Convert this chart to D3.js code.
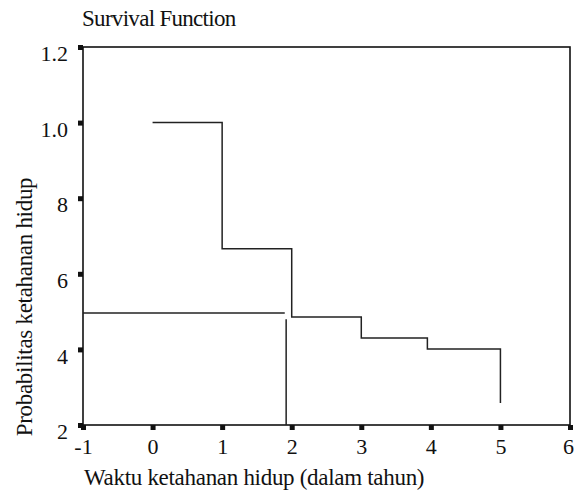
<!DOCTYPE html>
<html>
<head>
<meta charset="utf-8">
<script src="https://cdn.jsdelivr.net/npm/d3@7"></script>
<style>
  body { margin: 0; background: #fff; }
  text { font-family: "Liberation Serif", "DejaVu Serif", serif; fill: #111; }
</style>
</head>
<body>
<svg width="574" height="494"></svg>
<script>
const WIDTH = 574;
const HEIGHT = 494;

// step points of the survival curve (time, probability)
var times = [0, 1, 2, 3, 3.95, 5];
var survival = [1.0, 0.666, 0.486, 0.43, 0.401, 0.258];
var curveEnd = 0.258;

// median guide lines
var medianProb = 0.496;
var medianTime = 1.92;
var medianTop = 0.48;

var xTicks = [-1, 0, 1, 2, 3, 4, 5, 6];
var xTickLabels = ['-1', '0', '1', '2', '3', '4', '5', '6'];
var yTicks = [0.2, 0.4, 0.6, 0.8, 1.0, 1.2];
var yTickLabels = ['2', '4', '6', '8', '1.0', '1.2'];

var svg = d3.select('svg');

var x = d3.scaleLinear().domain([-1, 6]).range([83, 570]);
var y = d3.scaleLinear().domain([0.2, 1.2]).range([425, 47]);

// plot frame
svg.append('rect')
    .attr('x', x(-1)).attr('y', y(1.2))
    .attr('width', x(6) - x(-1)).attr('height', y(0.2) - y(1.2))
    .attr('fill', 'none').attr('stroke', '#111').attr('stroke-width', 1.6);

// axes: square tick marks and labels
var xAxis = svg.append('g').attr('transform', 'translate(0,' + y(0.2) + ')')
    .call(d3.axisBottom(x).tickValues(xTicks).tickSize(0).tickPadding(12)
        .tickFormat(function(d, i) { return xTickLabels[i]; }));
xAxis.select('.domain').remove();
xAxis.selectAll('text').attr('font-size', 22).attr('fill', '#111').attr('dy', '0.75em');
// last label sits on the window edge; keep it inside like the reference crop
xAxis.selectAll('.tick:last-of-type text').attr('dx', -2);
xAxis.selectAll('.tick').append('rect')
    .attr('x', -2.5).attr('y', 0).attr('width', 5).attr('height', 5).attr('fill', '#111');

var yAxis = svg.append('g').attr('transform', 'translate(' + x(-1) + ',0)')
    .call(d3.axisLeft(y).tickValues(yTicks).tickSize(0).tickPadding(15)
        .tickFormat(function(d, i) { return yTickLabels[i]; }));
yAxis.select('.domain').remove();
yAxis.selectAll('text').attr('font-size', 22).attr('fill', '#111').attr('dy', '0.62em');
yAxis.selectAll('.tick').append('rect')
    .attr('x', -5).attr('y', -2.5).attr('width', 5).attr('height', 5).attr('fill', '#111');

// survival step curve
var pts = times.map(function(t, i) { return [t, survival[i]]; });
pts.push([5, curveEnd]);
var line = d3.line()
    .x(function(d) { return x(d[0]); })
    .y(function(d) { return y(d[1]); })
    .curve(d3.curveStepAfter);
svg.append('path')
    .datum(pts)
    .attr('d', line)
    .attr('fill', 'none').attr('stroke', '#222').attr('stroke-width', 1.5);

// median lines
svg.append('line')
    .attr('x1', x(-1)).attr('x2', x(medianTime - 0.02))
    .attr('y1', y(medianProb)).attr('y2', y(medianProb))
    .attr('stroke', '#222').attr('stroke-width', 1.5);
svg.append('line')
    .attr('x1', x(medianTime)).attr('x2', x(medianTime))
    .attr('y1', y(medianTop)).attr('y2', y(0.2))
    .attr('stroke', '#222').attr('stroke-width', 1.5);

// titles
svg.append('text')
    .attr('x', 82).attr('y', 26)
    .attr('font-size', 23).attr('letter-spacing', -0.7)
    .text('Survival Function');

svg.append('text')
    .attr('x', 84).attr('y', 485)
    .attr('font-size', 23).attr('letter-spacing', -0.3)
    .text('Waktu ketahanan hidup (dalam tahun)');

svg.append('text')
    .attr('transform', 'translate(32,' + 307 + ') rotate(-90)')
    .attr('text-anchor', 'middle')
    .attr('font-size', 23).attr('letter-spacing', -0.3)
    .text('Probabilitas ketahanan hidup');
</script>
</body>
</html>
